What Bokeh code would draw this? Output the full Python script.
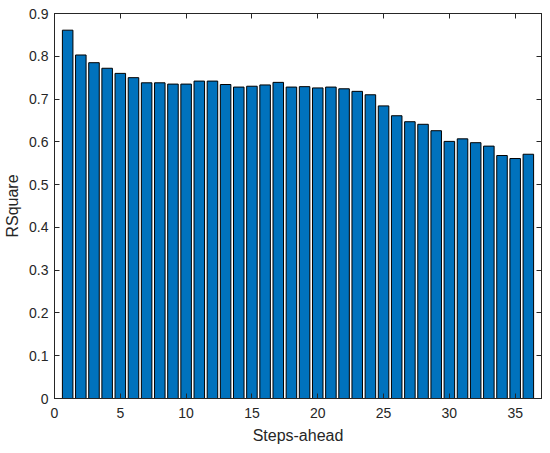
from bokeh.plotting import figure
from bokeh.models import Range1d, LinearAxis, FixedTicker, CustomJSTickFormatter, ColumnDataSource
from bokeh.embed import file_html
from bokeh.resources import INLINE

steps = list(range(1, 37))
rsquare = [0.861, 0.803, 0.785, 0.772, 0.760, 0.750, 0.738, 0.738, 0.735, 0.735,
           0.742, 0.742, 0.734, 0.728, 0.730, 0.733, 0.739, 0.728, 0.729, 0.726,
           0.728, 0.724, 0.718, 0.710, 0.684, 0.661, 0.647, 0.641, 0.626, 0.601,
           0.607, 0.598, 0.590, 0.568, 0.561, 0.571]
x_ticks = [0, 5, 10, 15, 20, 25, 30, 35]
y_ticks = [0, 0.1, 0.2, 0.3, 0.4, 0.5, 0.6, 0.7, 0.8, 0.9]
x_label = "Steps-ahead"
y_label = "RSquare"

FONT = "Liberation Sans"
AXC = "#262626"

p = figure(width=550, height=453, output_backend="svg", toolbar_location=None,
           x_range=Range1d(0, 37), y_range=Range1d(0, 0.9),
           min_border_left=54, min_border_right=9, min_border_top=13, min_border_bottom=55)
p.grid.visible = False
p.outline_line_color = AXC
p.outline_line_width = 1
p.background_fill_color = "white"

src = ColumnDataSource(dict(x=steps, top=rsquare))
p.vbar(x="x", top="top", width=0.8, bottom=0, source=src,
       fill_color="#0072BD", line_color="black", line_width=1)

fmt = CustomJSTickFormatter(code="return String(parseFloat(tick.toFixed(1)));")
blank = CustomJSTickFormatter(code="return '';")

def style(ax):
    ax.axis_line_color = AXC
    ax.major_tick_line_color = AXC
    ax.major_tick_in = 5
    ax.major_tick_out = 0
    ax.minor_tick_line_color = None
    ax.major_label_text_font = FONT
    ax.major_label_text_font_size = "14px"
    ax.major_label_text_color = AXC
    ax.axis_label_text_font = FONT
    ax.axis_label_text_font_size = "16px"
    ax.axis_label_text_font_style = "normal"
    ax.axis_label_text_color = AXC

xa = p.xaxis[0]
xa.ticker = FixedTicker(ticks=x_ticks)
xa.axis_label = x_label
style(xa)
xa.major_label_standoff = 9
xa.axis_label_standoff = 6

ya = p.yaxis[0]
ya.ticker = FixedTicker(ticks=y_ticks)
ya.formatter = fmt
ya.axis_label = y_label
style(ya)
ya.major_label_standoff = 6
ya.axis_label_standoff = 5

top_ax = LinearAxis(ticker=FixedTicker(ticks=x_ticks), formatter=blank)
style(top_ax)
p.add_layout(top_ax, "above")
right_ax = LinearAxis(ticker=FixedTicker(ticks=y_ticks), formatter=blank)
style(right_ax)
p.add_layout(right_ax, "right")

open("out.html", "w").write(file_html(p, INLINE))
